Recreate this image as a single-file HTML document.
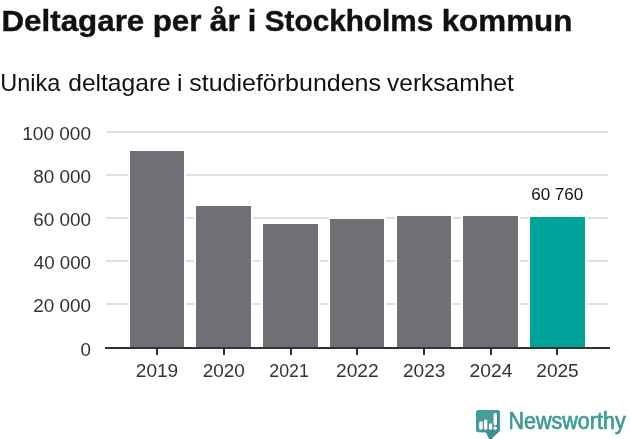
<!DOCTYPE html>
<html lang="sv"><head><meta charset="utf-8"><title>Deltagare per år i Stockholms kommun</title><style>
html,body{margin:0;padding:0;background:#fff;overflow:hidden;}
svg{display:block}
text{font-family:"Liberation Sans", sans-serif;}
</style></head><body>
<svg width="631" height="439" viewBox="0 0 631 439">
<rect width="631" height="439" fill="#fff"/>
<g stroke="#dfdfdf" stroke-width="2">
<line x1="106" x2="608" y1="304.00" y2="304.00"/>
<line x1="106" x2="608" y1="261.00" y2="261.00"/>
<line x1="106" x2="608" y1="218.00" y2="218.00"/>
<line x1="106" x2="608" y1="175.00" y2="175.00"/>
<line x1="106" x2="608" y1="132.00" y2="132.00"/>
</g>
<g stroke="#fff" stroke-width="4" paint-order="stroke">
<rect x="130.00" y="151.00" width="54.00" height="197.00" fill="#706f75"/>
<rect x="196.00" y="206.00" width="55.00" height="142.00" fill="#706f75"/>
<rect x="263.00" y="224.00" width="55.00" height="124.00" fill="#706f75"/>
<rect x="330.00" y="219.00" width="54.00" height="129.00" fill="#706f75"/>
<rect x="397.00" y="216.00" width="54.00" height="132.00" fill="#706f75"/>
<rect x="463.00" y="216.00" width="55.00" height="132.00" fill="#706f75"/>
<rect x="530.00" y="217.00" width="55.00" height="131.00" fill="#00a39a"/>
</g>
<g stroke="#333" stroke-width="2">
<line x1="105" x2="610" y1="348.0" y2="348.0"/>
<line x1="157.00" x2="157.00" y1="348.0" y2="355"/>
<line x1="224.00" x2="224.00" y1="348.0" y2="355"/>
<line x1="291.00" x2="291.00" y1="348.0" y2="355"/>
<line x1="357.00" x2="357.00" y1="348.0" y2="355"/>
<line x1="424.00" x2="424.00" y1="348.0" y2="355"/>
<line x1="491.00" x2="491.00" y1="348.0" y2="355"/>
<line x1="557.00" x2="557.00" y1="348.0" y2="355"/>
</g>
<g id="logo">
<path d="M478.5 410.1H497.6A2.5 2.5 0 0 1 500.1 412.6V430.6L489.8 440.4L486 432.2H478.5A2.5 2.5 0 0 1 476 429.7V412.6A2.5 2.5 0 0 1 478.5 410.1Z" fill="#479d9a"/>
<path d="M481 430.4H500.1V430.6L489.8 440.4L486 432.2H481Z" fill="#3f8f92"/>
<g fill="#3b808c">
<rect x="481.6" y="422.6" width="2" height="7.6"/>
<rect x="486.3" y="421" width="2" height="9.2"/>
<rect x="491.2" y="424.8" width="1.9" height="5.4"/>
<rect x="496" y="414.4" width="2.2" height="15.8"/>
</g>
<g fill="#fff">
<rect x="479.2" y="421.2" width="3.5" height="8.6" rx="1.6"/>
<rect x="483.9" y="419.6" width="3.5" height="10.2" rx="1.6"/>
<rect x="488.9" y="423.2" width="3.4" height="6.6" rx="1.6"/>
<rect x="493.6" y="413" width="3.4" height="12.4" rx="1.7"/>
<rect x="493.6" y="426.6" width="3.4" height="3.2" rx="1.6"/>
</g>
</g>
<text id="t" y="30.70" font-size="29.8" font-weight="700" fill="#111" stroke="#111" stroke-width="0.4"><tspan id="t0" x="1.46" textLength="142.81" lengthAdjust="spacingAndGlyphs">Deltagare</tspan> <tspan id="t1" x="152.67" textLength="48.84" lengthAdjust="spacingAndGlyphs">per</tspan> <tspan id="t2" x="209.72" textLength="30.03" lengthAdjust="spacingAndGlyphs">år</tspan> <tspan id="t3" x="247.66" textLength="8.55" lengthAdjust="spacingAndGlyphs">i</tspan> <tspan id="t4" x="264.74" textLength="168.52" lengthAdjust="spacingAndGlyphs">Stockholms</tspan> <tspan id="t5" x="441.69" textLength="130.60" lengthAdjust="spacingAndGlyphs">kommun</tspan></text>
<text id="s" y="90.70" font-size="24" fill="#111"><tspan id="s0" x="0.20" textLength="60.05" lengthAdjust="spacingAndGlyphs">Unika</tspan> <tspan id="s1" x="68.23" textLength="102.54" lengthAdjust="spacingAndGlyphs">deltagare</tspan> <tspan id="s2" x="177.11" textLength="5.52" lengthAdjust="spacingAndGlyphs">i</tspan> <tspan id="s3" x="189.24" textLength="191.77" lengthAdjust="spacingAndGlyphs">studieförbundens</tspan> <tspan id="s4" x="387.00" textLength="126.75" lengthAdjust="spacingAndGlyphs">verksamhet</tspan></text>
<text id="y0" x="80.64" y="355.75" font-size="18" textLength="10.45" lengthAdjust="spacingAndGlyphs" fill="#333">0</text>
<text id="y1" x="33.22" y="311.75" font-size="18" textLength="57.80" lengthAdjust="spacingAndGlyphs" fill="#333">20 000</text>
<text id="y2" x="33.74" y="268.75" font-size="18" textLength="57.28" lengthAdjust="spacingAndGlyphs" fill="#333">40 000</text>
<text id="y3" x="33.22" y="225.75" font-size="18" textLength="57.80" lengthAdjust="spacingAndGlyphs" fill="#333">60 000</text>
<text id="y4" x="33.23" y="182.75" font-size="18" textLength="57.80" lengthAdjust="spacingAndGlyphs" fill="#333">80 000</text>
<text id="y5" x="22.21" y="139.75" font-size="18" textLength="68.82" lengthAdjust="spacingAndGlyphs" fill="#333">100 000</text>
<text id="x0" x="135.78" y="376.60" font-size="18" textLength="42.46" lengthAdjust="spacingAndGlyphs" fill="#333">2019</text>
<text id="x1" x="202.69" y="376.60" font-size="18" textLength="42.19" lengthAdjust="spacingAndGlyphs" fill="#333">2020</text>
<text id="x2" x="269.37" y="376.60" font-size="18" textLength="39.46" lengthAdjust="spacingAndGlyphs" fill="#333">2021</text>
<text id="x3" x="336.02" y="376.60" font-size="18" textLength="42.72" lengthAdjust="spacingAndGlyphs" fill="#333">2022</text>
<text id="x4" x="402.93" y="376.60" font-size="18" textLength="42.45" lengthAdjust="spacingAndGlyphs" fill="#333">2023</text>
<text id="x5" x="469.57" y="376.60" font-size="18" textLength="42.81" lengthAdjust="spacingAndGlyphs" fill="#333">2024</text>
<text id="x6" x="536.28" y="376.60" font-size="18" textLength="42.46" lengthAdjust="spacingAndGlyphs" fill="#333">2025</text>
<text id="v0" x="531.23" y="200.20" font-size="16.5" textLength="52.04" lengthAdjust="spacingAndGlyphs" fill="#111" stroke="#fff" stroke-width="4" stroke-linejoin="round" paint-order="stroke">60 760</text>
<text id="l0" x="508.48" y="429.20" font-size="23" textLength="117.26" lengthAdjust="spacingAndGlyphs" fill="#3f9a96" stroke="#3f9a96" stroke-width="0.7">Newsworthy</text>
</svg>
</body></html>
